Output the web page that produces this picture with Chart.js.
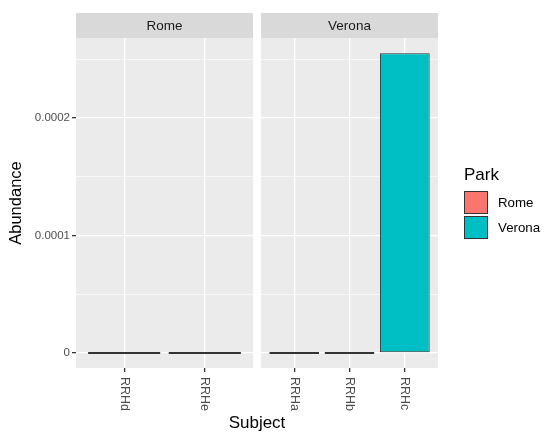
<!DOCTYPE html>
<html>
<head>
<meta charset="utf-8">
<script src="https://cdn.jsdelivr.net/npm/chart.js@4"></script>
<style>
  body { margin: 0; background: #fff; }
  #wrap { position: relative; width: 550px; height: 439px; background: #fff; font-family: "Liberation Sans", Arial, sans-serif; }
  canvas { position: absolute; top: 0; }
  #xtitle { position: absolute; left: 157px; width: 200px; top: 413px; text-align: center; font-size: 17px; color: #000; }
  #legend { position: absolute; left: 464px; top: 164px; color: #000; }
  #legend .title { font-size: 17px; height: 26px; line-height: 22px; }
  #legend .item { height: 25px; display: flex; align-items: center; }
  #legend .key { width: 24px; height: 23px; border: 0.8px solid #333; box-sizing: border-box; margin-right: 10px; }
  #legend .lab { font-size: 13.3px; }
</style>
</head>
<body>
<div id="wrap">
  <canvas id="romeChart" width="257" height="439" style="left:0"></canvas>
  <canvas id="veronaChart" width="293" height="439" style="left:257px"></canvas>
  <div id="xtitle">Subject</div>
  <div id="legend"></div>
</div>
<script>
// data
const parks = ['Rome', 'Verona'];
const parkColors = ['#F8766D', '#00BFC4'];
const romeSubjects = ['RRHd', 'RRHe'];
const romeValues = [0, 0];
const veronaSubjects = ['RRHa', 'RRHb', 'RRHc'];
const veronaValues = [0, 0, 0.000255];
const yMajorTicks = [0, 0.0001, 0.0002];
const yMinorTicks = [0.00005, 0.00015, 0.00025];
const yMin = -0.0000128;
const yMax = 0.000268;

Chart.defaults.font.family = '"Liberation Sans", Arial, sans-serif';

// grey panel + facet strip
const panelBg = {
    id: 'panelBg',
    beforeDraw(chart, args, opts) {
        const ctx = chart.ctx;
        const a = chart.chartArea;
        ctx.save();
        ctx.fillStyle = '#EBEBEB';
        ctx.fillRect(a.left, a.top, a.right - a.left, a.bottom - a.top);
        ctx.fillStyle = '#D9D9D9';
        ctx.fillRect(a.left, 13, a.right - a.left, 25);
        ctx.fillStyle = '#1A1A1A';
        ctx.font = '13.5px "Liberation Sans", Arial, sans-serif';
        ctx.textAlign = 'center';
        ctx.textBaseline = 'middle';
        ctx.fillText(opts.label, (a.left + a.right) / 2, 26);
        ctx.restore();
    }
};

// x tick labels rotated clockwise (top to bottom)
const xLabels = {
    id: 'xLabels',
    afterDraw(chart, args, opts) {
        const ctx = chart.ctx;
        const scale = chart.scales.x;
        ctx.save();
        ctx.fillStyle = '#4D4D4D';
        ctx.font = '12.5px "Liberation Sans", Arial, sans-serif';
        ctx.textAlign = 'left';
        ctx.textBaseline = 'middle';
        scale.ticks.forEach(t => {
            const x = scale.getPixelForValue(t.value);
            ctx.save();
            ctx.translate(x, chart.chartArea.bottom + 9);
            ctx.rotate(Math.PI / 2);
            ctx.fillText(opts.labels[t.value - 1], 0, 0);
            ctx.restore();
        });
        ctx.restore();
    }
};

function isMajor(v) {
    return yMajorTicks.includes(v);
}

function makeChart(id, subjects, values, park, showY, padding) {
    const color = parkColors[parks.indexOf(park)];
    return new Chart(document.getElementById(id), {
        type: 'bar',
        data: {
            datasets: [{
                label: park,
                data: values.map((v, i) => ({ x: i + 1, y: v })),
                backgroundColor: color,
                borderColor: '#333333',
                borderWidth: 1,
                borderSkipped: false,
                minBarLength: 2,
                barPercentage: 0.9,
                categoryPercentage: 1
            }]
        },
        plugins: [panelBg, xLabels],
        options: {
            responsive: false,
            animation: false,
            layout: { padding: padding },
            plugins: {
                legend: { display: false },
                tooltip: { enabled: false },
                panelBg: { label: park },
                xLabels: { labels: subjects }
            },
            scales: {
                x: {
                    type: 'linear',
                    offset: false,
                    min: 0.4,
                    max: subjects.length + 0.6,
                    afterBuildTicks: s => { s.ticks = subjects.map((_, i) => ({ value: i + 1 })); },
                    afterFit: s => { s.height = 71; },
                    ticks: { display: false },
                    border: { display: false },
                    grid: { offset: false, color: '#FFFFFF', lineWidth: 1.3, tickLength: 4, tickColor: '#333333' }
                },
                y: {
                    min: yMin,
                    max: yMax,
                    afterBuildTicks: s => { s.ticks = yMajorTicks.concat(yMinorTicks).map(v => ({ value: v })); },
                    afterFit: s => { s.width = showY ? 76 : 0; },
                    border: { display: false },
                    ticks: {
                        display: showY,
                        autoSkip: false,
                        padding: 2,
                        color: '#4D4D4D',
                        font: { size: 11.5 },
                        callback: v => isMajor(v) ? String(v) : ''
                    },
                    grid: {
                        color: '#FFFFFF',
                        lineWidth: c => isMajor(c.tick.value) ? 1.3 : 0.6,
                        drawTicks: showY,
                        tickLength: 4,
                        tickColor: c => isMajor(c.tick.value) ? '#333333' : 'rgba(0,0,0,0)'
                    },
                    title: {
                        display: showY,
                        text: 'Abundance',
                        color: '#000000',
                        font: { size: 16.5 },
                        padding: { top: 6.5, bottom: 0 }
                    }
                }
            }
        }
    });
}

makeChart('romeChart', romeSubjects, romeValues, 'Rome', true, { top: 38, right: 4, bottom: 0, left: 0 });
makeChart('veronaChart', veronaSubjects, veronaValues, 'Verona', false, { top: 38, right: 112, bottom: 0, left: 4 });

// legend
const legend = document.getElementById('legend');
legend.innerHTML = '<div class="title">Park</div>' + parks.map((p, i) =>
    `<div class="item"><div class="key" style="background:${parkColors[i]}"></div><span class="lab">${p}</span></div>`
).join('');
</script>
</body>
</html>
